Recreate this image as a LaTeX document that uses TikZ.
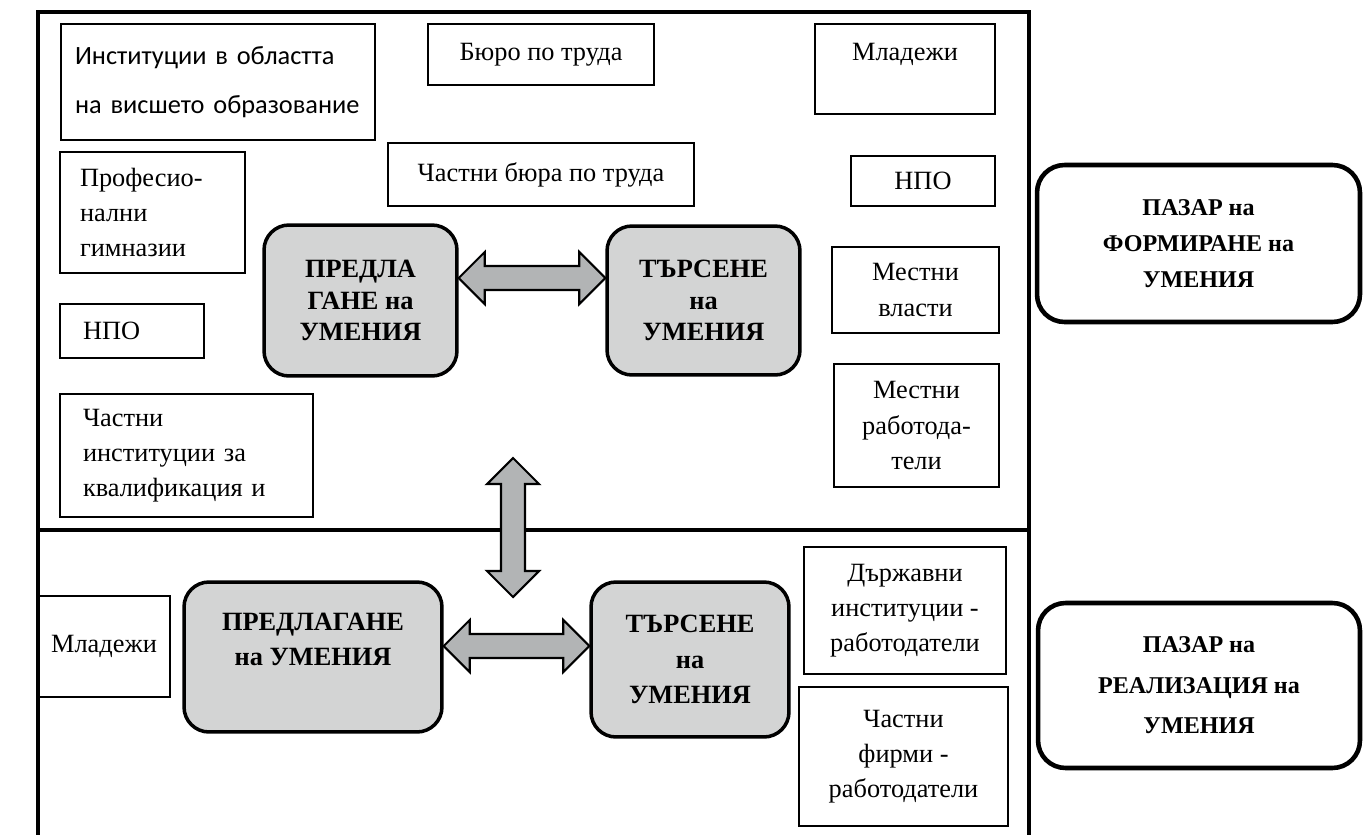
\documentclass[tikz,border=0pt]{standalone}
\usepackage{fontspec}
\setmainfont{Liberation Serif}
\newfontfamily\karlito{Carlito}
\usetikzlibrary{calc}
\definecolor{sivo}{HTML}{D3D4D4}
\definecolor{tamnosivo}{HTML}{B2B4B5}
\tikzset{
ramka/.style={line width=2.4pt},
kutiya/.style={draw,line width=1.6pt,inner sep=2pt,align=center,font=\fontsize{15}{20}\selectfont},
lyava/.style={kutiya,align=left},
umenie/.style={draw,line width=2pt,rounded corners=0.5cm,fill=sivo,align=center,font=\bfseries\fontsize{15}{18}\selectfont},
pazar/.style={draw,line width=2.6pt,rounded corners=0.55cm,align=center,font=\bfseries\fontsize{13.7}{20.5}\selectfont},
strelka/.style={draw,fill=tamnosivo,line width=1.2pt,line join=miter}}
% dvoyna blokova strelka ot #1 do #2
\newcommand{\dvoyna}[2]{%
\filldraw[strelka] (#1)
 -- ($(#1)!0.52cm!(#2)!0.52cm!90:(#2)$)
 -- ($(#1)!0.52cm!(#2)!0.24cm!90:(#2)$)
 -- ($(#2)!0.52cm!(#1)!0.24cm!-90:(#1)$)
 -- ($(#2)!0.52cm!(#1)!0.52cm!-90:(#1)$)
 -- (#2)
 -- ($(#2)!0.52cm!(#1)!0.52cm!90:(#1)$)
 -- ($(#2)!0.52cm!(#1)!0.24cm!90:(#1)$)
 -- ($(#1)!0.52cm!(#2)!0.24cm!-90:(#2)$)
 -- ($(#1)!0.52cm!(#2)!0.52cm!-90:(#2)$)
 -- cycle;}

\begin{document}
\begin{tikzpicture}[x=0.02cm,y=-0.02cm]
\useasboundingbox (0,0) rectangle (1363,835);

% ramka
\draw[ramka] (38,835) |- (1029,12) -- (1029,835);
\draw[ramka] (38,530) -- (1029,530);

% pazar na formirane
\node[lyava,minimum width=6.28cm,minimum height=2.32cm,text width=5.72cm,inner xsep=0.28cm,
  font=\karlito\fontsize{15}{28}\selectfont] (inst) at (218,82) {Институции в областта\\на висшето образование};
\node[lyava,minimum width=3.7cm,minimum height=2.42cm,text width=2.9cm,inner xsep=0.4cm] (prof) at (152.5,212.5) {Професио-\\нални\\гимназии};
\node[lyava,minimum width=2.88cm,minimum height=1.08cm,text width=1.96cm,inner xsep=0.46cm] (npoL) at (132,331) {НПО};
\node[lyava,minimum width=5.06cm,minimum height=2.46cm,text width=4.14cm,inner xsep=0.46cm] (chinst) at (186.5,455.5) {Частни\\институции за\\квалификация и};
\node[kutiya,minimum width=4.52cm,minimum height=1.22cm] (buro) at (541,54.5) {Бюро по труда};
\node[kutiya,minimum width=6.12cm,minimum height=1.26cm] (chbura) at (541,174.5) {Частни бюра по труда};
\node[kutiya,minimum width=3.6cm,minimum height=1.8cm] (mladT) at (905,69) {Младежи\\\mbox{}};
\node[kutiya,minimum width=2.88cm,minimum height=1.0cm] (npoD) at (923,181) {НПО};
\node[kutiya,minimum width=3.34cm,minimum height=1.72cm] (vlasti) at (915.5,290) {Местни\\власти};
\node[kutiya,minimum width=3.3cm,minimum height=2.46cm] (rabot) at (916.5,425.5) {Местни\\работода-\\тели};
\node[umenie,minimum width=3.86cm,minimum height=3.02cm] (predlaT) at (360.5,300.5) {ПРЕДЛА\\ГАНЕ на\\УМЕНИЯ};
\node[umenie,minimum width=3.86cm,minimum height=2.98cm] (tarsT) at (703.5,300.5) {ТЪРСЕНЕ\\на\\УМЕНИЯ};

% pazar na realizaciya
\node[kutiya,minimum width=2.64cm,minimum height=2.02cm] (mladB) at (104,646.5) {Младежи};
\node[umenie,minimum width=5.16cm,minimum height=3.0cm,font=\bfseries\fontsize{15}{20}\selectfont] (predlaB) at (313,657) {ПРЕДЛАГАНЕ\\на УМЕНИЯ\\\mbox{}};
\node[umenie,minimum width=3.96cm,minimum height=3.1cm,font=\bfseries\fontsize{15}{20}\selectfont] (tarsB) at (690,659.5) {ТЪРСЕНЕ\\на\\УМЕНИЯ};
\node[kutiya,minimum width=4.04cm,minimum height=2.54cm] (darzh) at (905,610.5) {Държавни\\институции -\\работодатели};
\node[kutiya,minimum width=4.18cm,minimum height=2.78cm] (firmi) at (903.5,756.5) {Частни\\фирми -\\работодатели};

\node[pazar,minimum width=6.46cm,minimum height=3.14cm] (pazarF) at (1198.5,243.5) {ПАЗАР на\\ФОРМИРАНЕ на\\УМЕНИЯ};
\node[pazar,minimum width=6.44cm,minimum height=3.3cm,font=\bfseries\fontsize{13.7}{23}\selectfont] (pazarR) at (1199,685.5) {ПАЗАР на\\РЕАЛИЗАЦИЯ на\\УМЕНИЯ};

% strelki
\coordinate (tL) at ([yshift=0.45cm]predlaT.east);
\coordinate (tR) at (tL -| tarsT.west);
\coordinate (bL) at ([yshift=0.22cm]predlaB.east);
\coordinate (bR) at (bL -| tarsB.west);
\coordinate (vT) at (513,458);
\coordinate (vB) at (513,597);
\dvoyna{tL}{tR}
\dvoyna{bL}{bR}
\dvoyna{vT}{vB}

\end{tikzpicture}
\end{document}
